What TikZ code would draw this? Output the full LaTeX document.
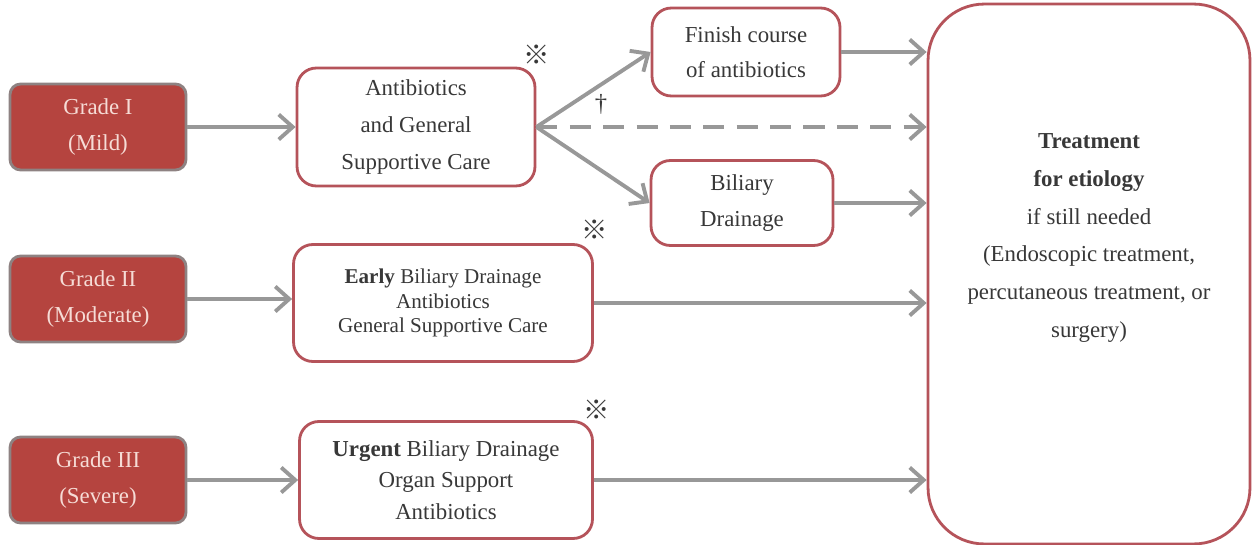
\documentclass[tikz,border=0pt]{standalone}
\usepackage{fontspec}
\setmainfont{Liberation Serif}
\newfontfamily\cjk{Noto Sans CJK SC}
\usetikzlibrary{arrows.meta}
\definecolor{gradered}{HTML}{B5443F}
\definecolor{gradeedge}{HTML}{8E8282}
\definecolor{gradetext}{HTML}{F6DCD6}
\definecolor{boxedge}{HTML}{B5535A}
\definecolor{arrowgray}{HTML}{989898}
\definecolor{textgray}{HTML}{383838}
\tikzset{
  grade/.style={draw=gradeedge, fill=gradered, line width=1.6pt, rounded corners=6pt,
    minimum width=3.52cm, minimum height=1.72cm, text=gradetext, align=center,
    font=\fontsize{13}{20.5}\selectfont},
  care/.style={draw=boxedge, fill=white, line width=1.6pt, rounded corners=11pt,
    align=center, text=textgray, inner sep=2pt},
  arr/.style={draw=arrowgray, line width=2.2pt, -{Straight Barb[length=2.8mm,width=5mm]}},
  dasharr/.style={arr, dash pattern=on 12pt off 7pt},
  refmark/.style={font=\cjk\fontsize{15}{15}\selectfont, text=textgray, inner sep=0pt},
}
\begin{document}
\begin{tikzpicture}[x=0.02cm, y=-0.02cm]
  \useasboundingbox (0,0) rectangle (1256,544);
  % severity grades
  \node[grade] (g1) at (98,127) {Grade I\\(Mild)};
  \node[grade] (g2) at (98,299) {Grade II\\(Moderate)};
  \node[grade] (g3) at (98,480) {Grade III\\(Severe)};
  % initial management
  \node[care, minimum width=4.76cm, minimum height=2.36cm, font=\fontsize{13}{21}\selectfont]
    (abx) at (416,127) {Antibiotics\\and General\\Supportive Care};
  \node[care, minimum width=5.98cm, minimum height=2.34cm, font=\fontsize{12}{14}\selectfont]
    (early) at (443,303) {\textbf{Early} Biliary Drainage\\Antibiotics\\General Supportive Care};
  \node[care, minimum width=5.86cm, minimum height=2.34cm, font=\fontsize{13}{18}\selectfont]
    (urgent) at (446,480) {\textbf{Urgent} Biliary Drainage\\Organ Support\\Antibiotics};
  % grade I outcomes
  \node[care, minimum width=3.76cm, minimum height=1.76cm, font=\fontsize{13}{20}\selectfont]
    (finish) at (746,52) {Finish course\\of antibiotics};
  \node[care, minimum width=3.64cm, minimum height=1.7cm, font=\fontsize{13}{20}\selectfont]
    (drain) at (742,203) {Biliary\\Drainage};
  % etiology treatment
  \node[care, rounded corners=32pt, minimum width=6.44cm, minimum height=10.8cm] (treat) at (1089,274) {};
  \node[align=center, text=textgray, font=\fontsize{13}{21.6}\selectfont] (treattxt) at (1089,238)
    {\textbf{Treatment}\\\textbf{for etiology}\\if still needed\\(Endoscopic treatment,\\percutaneous treatment, or\\surgery)};
  % marks
  \node[refmark] (m1) at (537,55) {※};
  \node[refmark] (m2) at (595,230) {※};
  \node[refmark] (m3) at (597,410) {※};
  \node[text=textgray, font=\fontsize{14}{14}\selectfont, inner sep=0pt] (dag) at (601,104) {\textdagger};
  % connectors
  \draw[arr] (g1.east) -- (abx.west);
  \draw[arr] (g2.east) -- (g2.east -| early.west);
  \draw[arr] (g3.east) -- (g3.east -| urgent.west);
  \draw[arr] (abx.east) -- (finish.west);
  \draw[arr] (abx.east) -- (drain.west);
  \draw[dasharr] (abx.east) -- (abx.east -| treat.west);
  \draw[arr] (finish.east) -- (finish.east -| treat.west);
  \draw[arr] (drain.east) -- (drain.east -| treat.west);
  \draw[arr] (early.east) -- (early.east -| treat.west);
  \draw[arr] (urgent.east) -- (urgent.east -| treat.west);
\end{tikzpicture}
\end{document}
